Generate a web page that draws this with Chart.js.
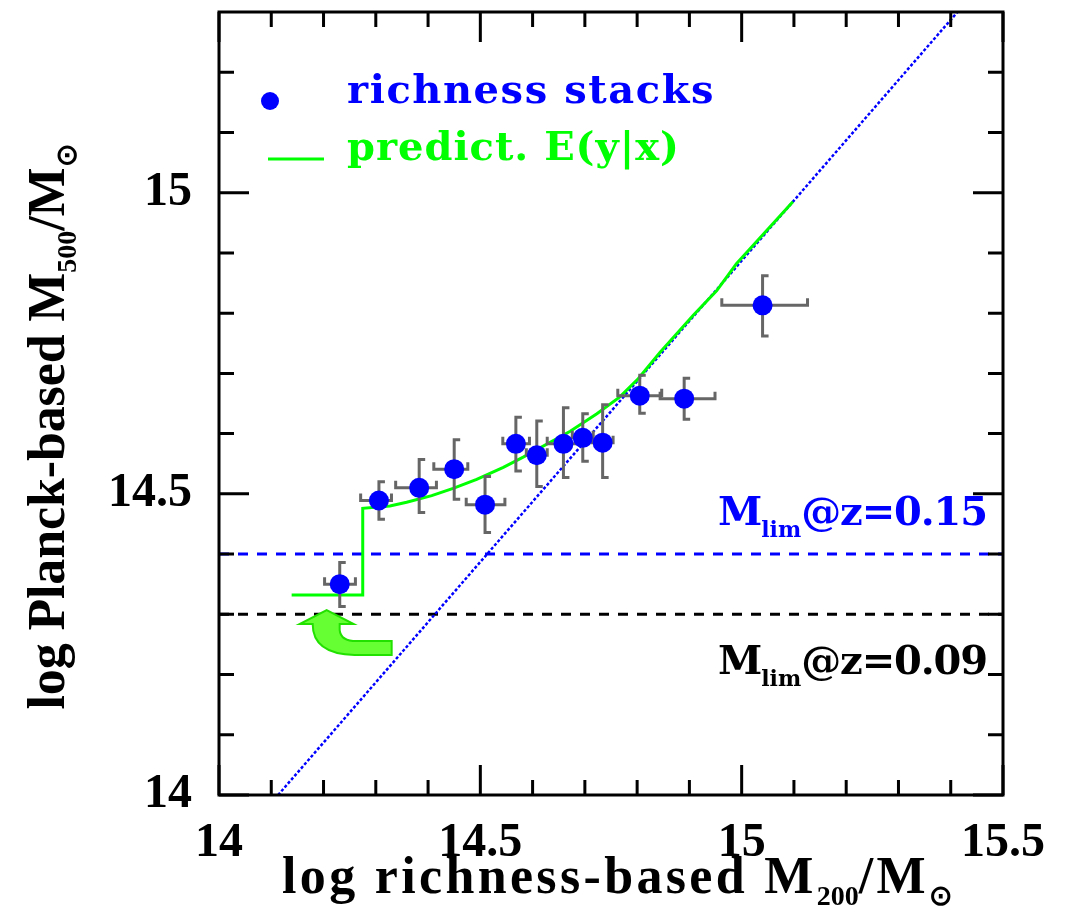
<!DOCTYPE html>
<html><head><meta charset="utf-8">
<script src="https://cdn.jsdelivr.net/npm/chart.js@4/dist/chart.umd.min.js"></script>
<style>html,body{margin:0;padding:0;background:#fff;overflow:hidden}</style>
</head><body>
<canvas id="c" width="1068" height="922" style="width:1068px;height:922px;display:block"></canvas>
<script>
// ---------- data ----------
const stackX     = [14.231,14.306,14.383,14.450,14.509,14.568,14.608,14.659,14.696,14.734,14.805,14.890,15.040];
const stackY     = [14.350,14.489,14.510,14.541,14.482,14.583,14.564,14.583,14.593,14.585,14.663,14.658,14.813];
const stackXLow  = [14.202,14.271,14.338,14.411,14.473,14.543,14.588,14.628,14.676,14.714,14.763,14.844,14.962];
const stackXHigh = [14.261,14.330,14.416,14.476,14.547,14.594,14.628,14.690,14.716,14.754,14.847,14.949,15.126];
const stackYLow  = [14.313,14.458,14.469,14.491,14.436,14.538,14.512,14.527,14.554,14.527,14.634,14.624,14.762];
const stackYHigh = [14.386,14.520,14.557,14.590,14.529,14.627,14.621,14.643,14.633,14.648,14.697,14.692,14.862];

const predX = [14.139,14.275,14.275,14.327,14.359,14.407,14.448,14.493,14.544,14.582,14.672,14.723,14.767,14.802,14.844,14.907,14.952,14.990,15.098];
const predY = [14.332,14.332,14.476,14.480,14.486,14.497,14.509,14.524,14.544,14.561,14.604,14.633,14.661,14.691,14.735,14.796,14.837,14.882,14.985];

const diagX = [14.113,15.413];
const diagY = [14.0,15.3];

const limX = [14.0,15.5];
const lim015Y = [14.4,14.4];
const lim009Y = [14.3,14.3];

const xMajorTicks = [14,14.5,15,15.5];
const xMinorTicks = [14.1,14.2,14.3,14.4,14.6,14.7,14.8,14.9,15.1,15.2,15.3,15.4];
const yMajorTicks = [14,14.5,15];
const yMinorTicks = [14.1,14.2,14.3,14.4,14.6,14.7,14.8,14.9,15.1,15.2];
const xTickLabels = ['14','14.5','15','15.5'];
const yTickLabels = ['14','14.5','15'];

const arrowTip = {x:14.206, y:14.307};

// ---------- helpers ----------
const pts = (xs,ys)=>xs.map((x,i)=>({x:x,y:ys[i]}));

function richWidth(ctx, parts, ls){
  let w=0;
  for(const p of parts){ ctx.font=p.font; ctx.letterSpacing=(p.sub?0:ls)+'px'; w+=ctx.measureText(p.t).width; }
  ctx.letterSpacing='0px';
  return w;
}
function drawRich(ctx, parts, x, baseY, target, color, align){
  ctx.save();
  const nat = richWidth(ctx, parts, 0);
  const n = parts.filter(p=>!p.sub).reduce((a,p)=>a+p.t.length,0);
  const ls = target ? (target-nat)/n : 0;
  const w = richWidth(ctx, parts, ls);
  let cx = align==='center' ? x - w/2 : x;
  ctx.textAlign='left'; ctx.textBaseline='alphabetic'; ctx.fillStyle=color;
  for(const p of parts){
    ctx.font=p.font; ctx.letterSpacing=(p.sub?0:ls)+'px';
    ctx.fillText(p.t, cx, baseY+(p.dy||0));
    cx += ctx.measureText(p.t).width;
  }
  ctx.letterSpacing='0px';
  ctx.restore();
}

const TITLE_FONT = 'bold 52px "Liberation Serif"';
const SUB_FONT = 'bold 28px "Liberation Serif"';
const ANN_FONT = 'bold 40px "DejaVu Serif"';
const ANN_SUB = 'bold 22px "DejaVu Serif"';
const LEG_FONT = 'bold 40px "DejaVu Serif"';

const decor = {
  id:'decor',
  beforeDatasetDraw(chart, args){
    if(args.index!==0) return;
    const ctx=chart.ctx, xs=chart.scales.x, ys=chart.scales.y;
    ctx.save();
    ctx.strokeStyle='#666666'; ctx.lineWidth=3; ctx.lineCap='butt';
    for(let i=0;i<stackX.length;i++){
      const px=xs.getPixelForValue(stackX[i]), py=ys.getPixelForValue(stackY[i]);
      const x0=xs.getPixelForValue(stackXLow[i]), x1=xs.getPixelForValue(stackXHigh[i]);
      const y0=ys.getPixelForValue(stackYLow[i]), y1=ys.getPixelForValue(stackYHigh[i]);
      ctx.beginPath();
      ctx.moveTo(px,y0); ctx.lineTo(px,y1);
      ctx.moveTo(x0,py); ctx.lineTo(x1,py);
      ctx.moveTo(px-1.5,y1); ctx.lineTo(px+6,y1);
      ctx.moveTo(px-1.5,y0); ctx.lineTo(px+6,y0);
      ctx.moveTo(x0,py+1.5); ctx.lineTo(x0,py-7);
      ctx.moveTo(x1,py+1.5); ctx.lineTo(x1,py-7);
      ctx.stroke();
    }
    ctx.restore();
  },
  afterDatasetsDraw(chart){
    const ctx=chart.ctx, xs=chart.scales.x, ys=chart.scales.y;
    const tx=xs.getPixelForValue(arrowTip.x), ty=ys.getPixelForValue(arrowTip.y);
    ctx.save();
    ctx.beginPath();
    ctx.moveTo(tx,ty);
    ctx.lineTo(tx+27,ty+14);
    ctx.lineTo(tx+13,ty+14);
    ctx.lineTo(tx+13,ty+20);
    ctx.quadraticCurveTo(tx+14,ty+31,tx+30,ty+31);
    ctx.lineTo(tx+65,ty+31);
    ctx.lineTo(tx+65,ty+45);
    ctx.lineTo(tx+28,ty+45);
    ctx.quadraticCurveTo(tx-14,ty+44,tx-14,ty+14);
    ctx.lineTo(tx-27,ty+14);
    ctx.closePath();
    ctx.fillStyle='#66ff33'; ctx.fill();
    ctx.strokeStyle='#22e000'; ctx.lineWidth=2; ctx.stroke();
    ctx.restore();
  },
  afterDraw(chart){
    const ctx=chart.ctx, a=chart.chartArea, xs=chart.scales.x, ys=chart.scales.y;
    ctx.save();
    ctx.strokeStyle='#000'; ctx.lineWidth=3;
    ctx.strokeRect(a.left, a.top, a.right-a.left, a.bottom-a.top);
    ctx.beginPath();
    const tk=(v,len)=>{ const p=xs.getPixelForValue(v);
      ctx.moveTo(p,a.bottom); ctx.lineTo(p,a.bottom-len);
      ctx.moveTo(p,a.top); ctx.lineTo(p,a.top+len); };
    const tky=(v,len)=>{ const p=ys.getPixelForValue(v);
      ctx.moveTo(a.left,p); ctx.lineTo(a.left+len,p);
      ctx.moveTo(a.right,p); ctx.lineTo(a.right-len,p); };
    xMajorTicks.forEach(v=>tk(v,30)); xMinorTicks.forEach(v=>tk(v,15));
    yMajorTicks.forEach(v=>tky(v,30)); yMinorTicks.forEach(v=>tky(v,15));
    ctx.stroke();
    ctx.restore();

    drawRich(ctx,[{t:'log richness-based M',font:TITLE_FONT},{t:'200',font:SUB_FONT,sub:true,dy:12},
      {t:'/M',font:TITLE_FONT},{t:'\u2299',font:SUB_FONT,sub:true,dy:12}],
      (a.left+a.right)/2 + 6, 893, 670, '#000', 'center');
    ctx.save();
    ctx.translate(64, 427);
    ctx.rotate(-Math.PI/2);
    drawRich(ctx,[{t:'log Planck-based M',font:TITLE_FONT},{t:'500',font:SUB_FONT,sub:true,dy:12},
      {t:'/M',font:TITLE_FONT},{t:'\u2299',font:SUB_FONT,sub:true,dy:12}],
      0, 0, 565, '#000', 'center');
    ctx.restore();

    drawRich(ctx,[{t:'M',font:ANN_FONT},{t:'lim',font:ANN_SUB,sub:true,dy:12},{t:'@z=0.15',font:ANN_FONT}],
      718, 525, 269, '#0000ff', 'left');
    drawRich(ctx,[{t:'M',font:ANN_FONT},{t:'lim',font:ANN_SUB,sub:true,dy:12},{t:'@z=0.09',font:ANN_FONT}],
      718, 674, 269, '#000000', 'left');

    ctx.save();
    ctx.fillStyle='#0000ff';
    ctx.beginPath(); ctx.arc(a.left+51, a.top+89, 9, 0, Math.PI*2); ctx.fill();
    ctx.strokeStyle='#00ff00'; ctx.lineWidth=3;
    ctx.beginPath(); ctx.moveTo(a.left+49, a.top+147); ctx.lineTo(a.left+105, a.top+147); ctx.stroke();
    ctx.restore();
    drawRich(ctx,[{t:'richness stacks',font:LEG_FONT}], a.left+128, a.top+91, 368, '#0000ff','left');
    drawRich(ctx,[{t:'predict. E(y|x)',font:LEG_FONT}], a.left+128, a.top+148, 333, '#00ff00','left');
  }
};

new Chart(document.getElementById('c'), {
  type:'scatter',
  data:{datasets:[
    {label:'richness stacks', data:pts(stackX,stackY), backgroundColor:'#0000ff', borderWidth:0,
     pointRadius:10, pointHoverRadius:10, order:0},
    {label:'predict. E(y|x)', data:pts(predX,predY), showLine:true, borderColor:'#00ff00', borderWidth:3,
     pointRadius:0, tension:0, order:1},
    {label:'1:1', data:pts(diagX,diagY), showLine:true, borderColor:'#0000ff', borderWidth:2.5,
     borderDash:[3,2], pointRadius:0, order:2},
    {label:'Mlim z=0.15', data:pts(limX,lim015Y), showLine:true, borderColor:'#0000ff', borderWidth:3,
     borderDash:[10,9], pointRadius:0, order:3},
    {label:'Mlim z=0.09', data:pts(limX,lim009Y), showLine:true, borderColor:'#000000', borderWidth:3,
     borderDash:[10,9], pointRadius:0, order:4}
  ]},
  options:{
    responsive:false, animation:false, devicePixelRatio:1,
    layout:{padding:{left:0,right:65,top:12,bottom:0}},
    plugins:{legend:{display:false}, tooltip:{enabled:false}},
    scales:{
      x:{type:'linear', min:14, max:15.5, grid:{display:false, drawTicks:false}, border:{display:false},
        afterBuildTicks:s=>{ s.ticks = xMajorTicks.map(v=>({value:v})); },
        afterFit:s=>{ s.height=127; s.paddingLeft=0; s.paddingRight=0; },
        ticks:{ padding:20, color:'#000', font:{family:'"Liberation Serif"', size:48, weight:'bold'},
          maxRotation:0, autoSkip:false,
          callback:(v)=>{ const i=xMajorTicks.indexOf(v); return i>=0?xTickLabels[i]:''; } }
      },
      y:{type:'linear', min:14, max:15.3, grid:{display:false, drawTicks:false}, border:{display:false},
        afterBuildTicks:s=>{ s.ticks = yMajorTicks.map(v=>({value:v})); },
        afterFit:s=>{ s.width=219; s.paddingTop=0; s.paddingBottom=0; },
        ticks:{ padding:27, color:'#000', font:{family:'"Liberation Serif"', size:48, weight:'bold'},
          autoSkip:false,
          callback:(v)=>{ const i=yMajorTicks.indexOf(v); return i>=0?yTickLabels[i]:''; } }
      }
    }
  },
  plugins:[decor]
});
</script>
</body></html>
